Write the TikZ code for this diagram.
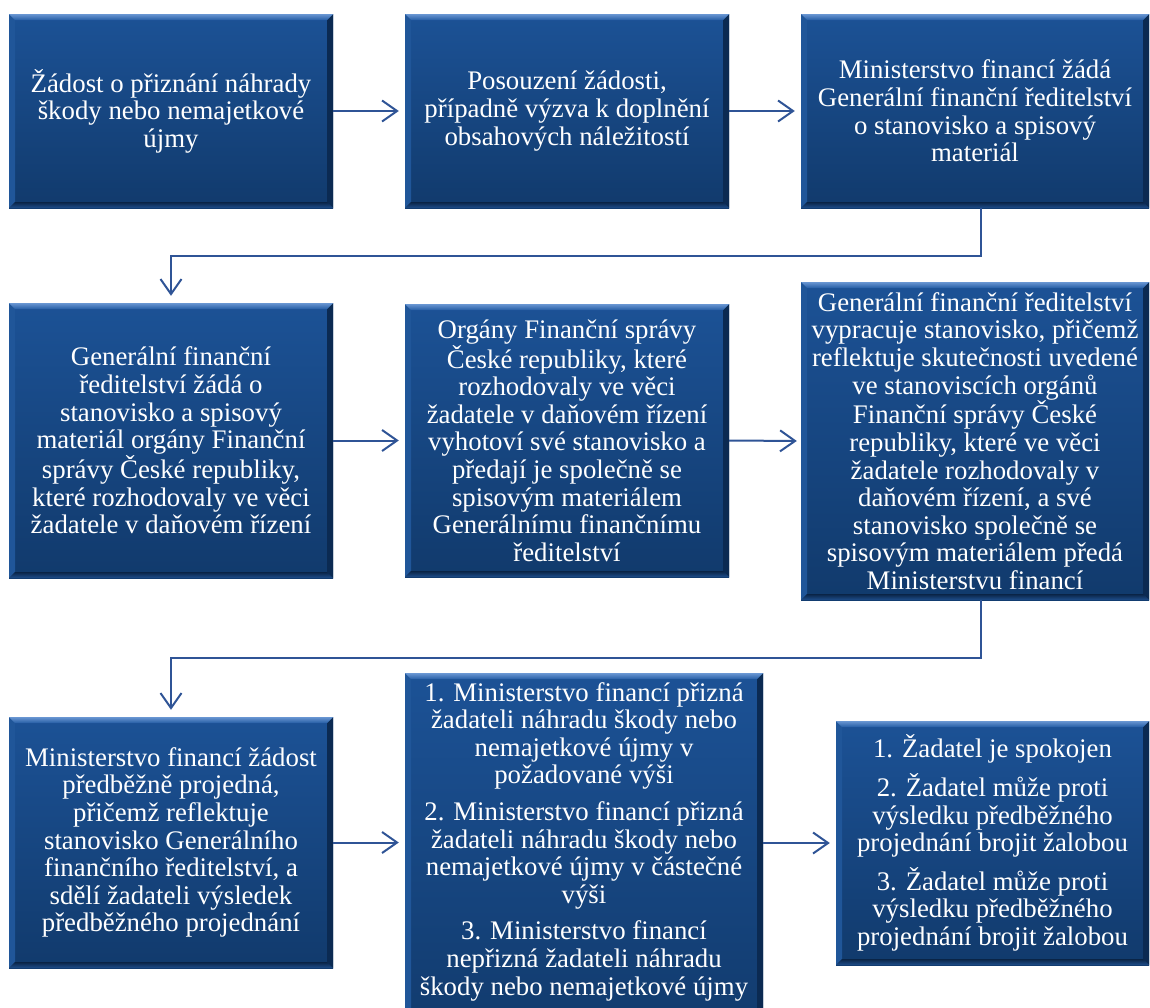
\documentclass[tikz,border=0pt]{standalone}
\usepackage{fontspec}
\setmainfont{Liberation Serif}
\usetikzlibrary{arrows.meta,calc}
\definecolor{boxtop}{RGB}{28,82,150}
\definecolor{boxbot}{RGB}{17,58,108}
\definecolor{bevlight}{RGB}{105,150,210}
\definecolor{bevmid}{RGB}{38,94,165}
\definecolor{bevleft}{RGB}{32,86,153}
\definecolor{bevright}{RGB}{11,42,82}
\definecolor{bevbotA}{RGB}{10,36,70}
\definecolor{bevbotB}{RGB}{30,78,140}
\definecolor{lineblue}{RGB}{47,84,150}
\tikzset{
  bx/.style={rectangle, inner sep=0pt, draw=none, top color=boxtop, bottom color=boxbot,
    text=white, align=center, font=\fontsize{26.8}{27.6}\selectfont,
    path picture={
      \coordinate (bnw) at (path picture bounding box.north west);
      \coordinate (bne) at (path picture bounding box.north east);
      \coordinate (bsw) at (path picture bounding box.south west);
      \coordinate (bse) at (path picture bounding box.south east);
      \coordinate (inw) at ($(bnw)+(6pt,-6pt)$);
      \coordinate (ine) at ($(bne)+(-6pt,-6pt)$);
      \coordinate (isw) at ($(bsw)+(6pt,6pt)$);
      \coordinate (ise) at ($(bse)+(-6pt,6pt)$);
      \fill[bevleft] (bnw)--(inw)--(isw)--(bsw)--cycle;
      \fill[bevright] (bne)--(ine)--(ise)--(bse)--cycle;
      \shade[top color=bevlight, bottom color=bevmid] (bnw)--(bne)--(ine)--(inw)--cycle;
      \shade[top color=bevbotA, bottom color=bevbotB] (isw)--(ise)--(bse)--(bsw)--cycle;
    }},
  txt/.style={inner sep=0pt, text=white, align=center, font=\fontsize{26.8}{27.6}\selectfont},
  conn/.style={draw=lineblue, line width=2pt, -{Straight Barb[length=15pt,width=21pt]}, shorten >=6pt}
}
\begin{document}
\begin{tikzpicture}[x=1pt, y=-1pt]
\useasboundingbox (0,0) rectangle (1150,1007);
\clip (0,0) rectangle (1150,1007);

\node[bx, minimum width=324pt, minimum height=194pt] (a) at (171,111)
  {Žádost o přiznání náhrady\\škody nebo nemajetkové\\újmy};
\node[bx, minimum width=324pt, minimum height=194pt] (b) at (567,111)
  {Posouzení žádosti,\\případně výzva k doplnění\\obsahových náležitostí};
\node[bx, minimum width=348pt, minimum height=194pt] (c) at (975,111)
  {Ministerstvo financí žádá\\Generální finanční ředitelství\\o stanovisko a spisový\\materiál};

\node[bx, minimum width=324pt, minimum height=275pt] (d) at (171,440.5)
  {Generální finanční\\ředitelství žádá o\\stanovisko a spisový\\materiál orgány Finanční\\správy České republiky,\\které rozhodovaly ve věci\\žadatele v daňovém řízení};
\node[bx, minimum width=324pt, minimum height=273pt] (e) at (567,440.5)
  {Orgány Finanční správy\\České republiky, které\\rozhodovaly ve věci\\žadatele v daňovém řízení\\vyhotoví své stanovisko a\\předají je společně se\\spisovým materiálem\\Generálnímu finančnímu\\ředitelství};
\node[bx, minimum width=348pt, minimum height=318pt] (f) at (975,441)
  {Generální finanční ředitelství\\vypracuje stanovisko, přičemž\\reflektuje skutečnosti uvedené\\ve stanoviscích orgánů\\Finanční správy České\\republiky, které ve věci\\žadatele rozhodovaly v\\daňovém řízení, a své\\stanovisko společně se\\spisovým materiálem předá\\Ministerstvu financí};

\node[bx, minimum width=324pt, minimum height=251pt] (g) at (171,842.5)
  {Ministerstvo financí žádost\\předběžně projedná,\\přičemž reflektuje\\stanovisko Generálního\\finančního ředitelství, a\\sdělí žadateli výsledek\\předběžného projednání};
\node[bx, minimum width=358pt, minimum height=370pt, anchor=north] (h) at (584,673) {};
\node[txt, anchor=north] (ht) at (584,682)
  {1. Ministerstvo financí přizná\\žadateli náhradu škody nebo\\nemajetkové újmy v\\požadované výši\\[9pt]
   2. Ministerstvo financí přizná\\žadateli náhradu škody nebo\\nemajetkové újmy v částečné\\výši\\[9pt]
   3. Ministerstvo financí\\nepřizná žadateli náhradu\\škody nebo nemajetkové újmy};
\node[bx, minimum width=313pt, minimum height=244pt] (i) at (992.5,843)
  {1. Žadatel je spokojen\\[9pt]2. Žadatel může proti\\výsledku předběžného\\projednání brojit žalobou\\[9pt]3. Žadatel může proti\\výsledku předběžného\\projednání brojit žalobou};

\coordinate (k1) at (981,256);
\coordinate (k2) at (981,658);

\draw[conn] (a.east) -- (b.west);
\draw[conn] (b.east) -- (c.west);
\draw[conn, shorten >=7pt] (c.south -| k1) -- (k1) -| (d.north);
\draw[conn] (d.east) -- (e.west);
\draw[conn, shorten >=4pt] (e.east) -- (f.west);
\draw[conn, shorten >=7pt] (f.south -| k2) -- (k2) -| (g.north);
\draw[conn] (g.east) -- (g.east -| h.west);
\draw[conn] (i.west -| h.east) -- (i.west);
\end{tikzpicture}
\end{document}
